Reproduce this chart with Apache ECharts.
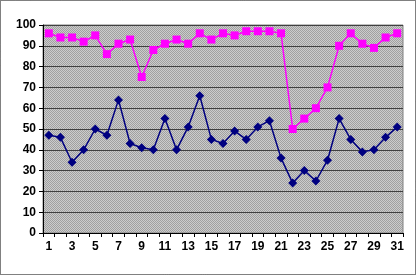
<!DOCTYPE html>
<html><head><meta charset="utf-8">
<script src="https://cdn.jsdelivr.net/npm/echarts@6/dist/echarts.min.js"></script>
<style>html,body{margin:0;padding:0;background:#fff}#c{width:418px;height:276px}</style>
</head><body><div id="c"></div>
<script>
var categories = [];
for (var i = 1; i <= 31; i++) categories.push(String(i));
var pinkValues = [96,94,94,92,95,86,91,93,75,88,91,93,91,96,93,96,95,97,97,97,96,50,55,60,70,90,96,91,89,94,96];
var navyValues = [47,46,34,40,50,47,64,43,41,40,55,40,51,66,45,43,49,45,51,54,36,24,30,25,35,55,45,39,40,46,51];

var pc = document.createElement('canvas');
pc.width = 2; pc.height = 2;
var ctx = pc.getContext('2d');
ctx.fillStyle = '#cccccc'; ctx.fillRect(0,0,2,2);
ctx.fillStyle = '#a0a0a0'; ctx.fillRect(0,0,1,1); ctx.fillRect(1,1,1,1);

var chart = echarts.init(document.getElementById('c'));
chart.setOption({
  animation: false,
  backgroundColor: '#fff',
  grid: {left: 43, right: 15, top: 25, bottom: 43, show: true,
         backgroundColor: {image: pc, repeat: 'repeat'}, borderColor: '#808080', borderWidth: 1},
  graphic: [{type: 'rect', shape: {x: 0.5, y: 0.5, width: 415, height: 274},
             style: {fill: null, stroke: '#000', lineWidth: 1, lineDash: [1, 1]}}],
  xAxis: {type: 'category', data: categories, boundaryGap: true,
          axisLine: {lineStyle: {color: '#000', width: 1}},
          axisTick: {show: true, interval: 0, length: 4, lineStyle: {color: '#000'}},
          axisLabel: {interval: 1, color: '#000', fontFamily: 'Liberation Sans, Arial', fontSize: 12, fontWeight: 'bold', margin: 8}},
  yAxis: {type: 'value', min: 0, max: 100, interval: 10,
          axisLine: {show: true, lineStyle: {color: '#000', width: 1}},
          axisTick: {show: true, length: 4, lineStyle: {color: '#000'}},
          splitLine: {lineStyle: {color: '#404040', width: 1}},
          axisLabel: {color: '#000', fontFamily: 'Liberation Sans, Arial', fontSize: 12, fontWeight: 'bold', margin: 7}},
  series: [
    {type: 'line', data: pinkValues, symbol: 'rect', symbolSize: 8, showAllSymbol: true,
     lineStyle: {color: '#ff00ff', width: 1.5}, itemStyle: {color: '#ff00ff'}},
    {type: 'line', data: navyValues, symbol: 'diamond', symbolSize: 9, showAllSymbol: true,
     lineStyle: {color: '#000080', width: 1.5}, itemStyle: {color: '#000080'}}
  ]
});
</script></body></html>
